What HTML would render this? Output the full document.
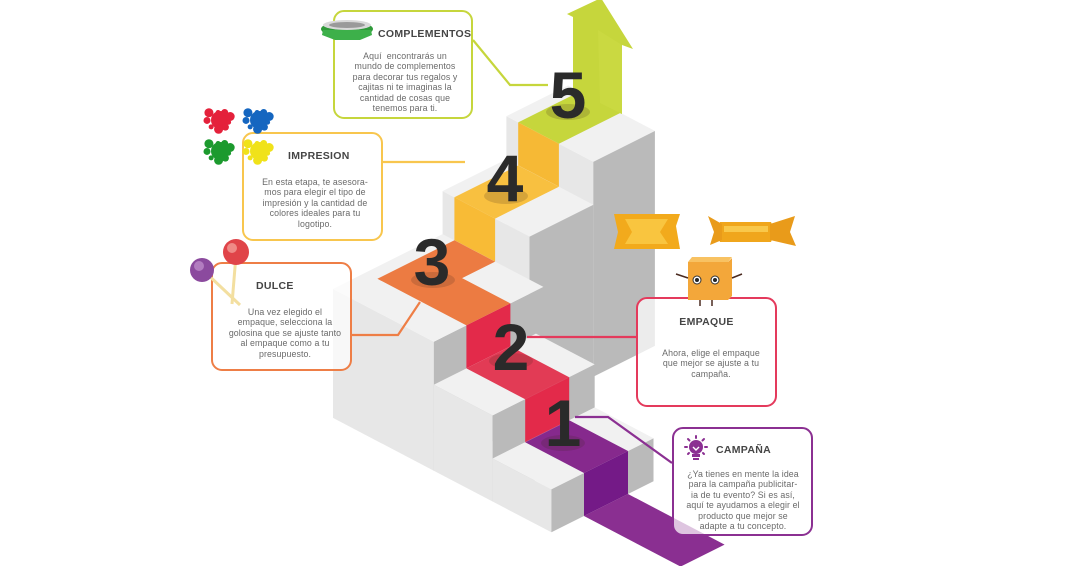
<!DOCTYPE html>
<html><head><meta charset="utf-8">
<style>
html,body{margin:0;padding:0;background:#fff;}
body{width:1080px;height:566px;overflow:hidden;position:relative;font-family:"Liberation Sans",sans-serif;}
svg{position:absolute;left:0;top:0;}
.box{position:absolute;border-radius:11px;background:rgba(255,255,255,0.72);box-sizing:border-box;}
.t{position:absolute;font-weight:bold;color:#454545;font-size:10.5px;letter-spacing:0.3px;}
.b{position:absolute;color:#6a6a6a;font-size:8.8px;line-height:10.4px;text-align:center;white-space:nowrap;letter-spacing:0.1px;}
</style></head><body>
<svg id="s" width="1080" height="566" viewBox="0 0 1080 566"></svg>

<!-- callout boxes -->
<div class="box" style="left:333px;top:10px;width:140px;height:109px;border:2.5px solid #c6d63c;"></div>
<div class="t" style="left:378px;top:28px;">COMPLEMENTOS</div>
<div class="b" style="left:333px;width:144px;top:51px;">Aquí&nbsp; encontrarás un<br>mundo de complementos<br>para decorar tus regalos y<br>cajitas ni te imaginas la<br>cantidad de cosas que<br>tenemos para ti.</div>

<div class="box" style="left:242px;top:132px;width:141px;height:109px;border:2.5px solid #f8c64e;"></div>
<div class="t" style="left:288px;top:150px;">IMPRESION</div>
<div class="b" style="left:242px;width:146px;top:177px;">En esta etapa, te asesora-<br>mos para elegir el tipo de<br>impresión y la cantidad de<br>colores ideales para tu<br>logotipo.</div>

<div class="box" style="left:211px;top:262px;width:141px;height:109px;border:2.5px solid #ee7e46;"></div>
<div class="t" style="left:256px;top:280px;">DULCE</div>
<div class="b" style="left:214px;width:142px;top:307px;">Una vez elegido el<br>empaque, selecciona la<br>golosina que se ajuste tanto<br>al empaque como a tu<br>presupuesto.</div>

<div class="box" style="left:636px;top:297px;width:141px;height:110px;border:2.5px solid #e43a5c;"></div>
<div class="t" style="left:636px;width:141px;text-align:center;top:316px;">EMPAQUE</div>
<div class="b" style="left:636px;width:150px;top:348px;">Ahora, elige el empaque<br>que mejor se ajuste a tu<br>campaña.</div>

<div class="box" style="left:672px;top:427px;width:141px;height:109px;border:2.5px solid #8b3092;"></div>
<div class="t" style="left:716px;top:444px;">CAMPAÑA</div>
<div class="b" style="left:672px;width:142px;top:469px;">¿Ya tienes en mente la idea<br>para la campaña publicitar-<br>ia de tu evento? Si es así,<br>aquí te ayudamos a elegir el<br>producto que mejor se<br>adapte a tu concepto.</div>

<svg id="d" width="1080" height="566" viewBox="0 0 1080 566">
 <g fill="#8b3092" stroke="#8b3092">
  <circle cx="696" cy="447" r="7" stroke="none"/>
  <rect x="692" y="454" width="8" height="3" stroke="none"/>
  <rect x="693" y="458" width="6" height="2" stroke="none"/>
  <g stroke-width="2" stroke-linecap="round">
   <line x1="696" y1="436" x2="696" y2="438"/><line x1="685" y1="447" x2="687" y2="447"/><line x1="705" y1="447" x2="707" y2="447"/>
   <line x1="688" y1="439" x2="689.5" y2="440.5"/><line x1="704" y1="439" x2="702.5" y2="440.5"/>
   <line x1="688" y1="454" x2="689" y2="453"/><line x1="704" y1="454" x2="703" y2="453"/>
  </g>
  <polyline points="693,447 696,450 699,447" fill="none" stroke="#fff" stroke-width="1.4"/>
 </g>
</svg>

<script>
var S=document.getElementById('s');var NS='http://www.w3.org/2000/svg';
function P(x,y,z){return [584+42*x+44*y,516+22*x-22*y-43*z];}
function poly(pts,fill){var e=document.createElementNS(NS,'polygon');e.setAttribute('points',pts.map(function(p){return p[0].toFixed(1)+','+p[1].toFixed(1)}).join(' '));e.setAttribute('fill',fill);S.appendChild(e);return e;}
function el(tag,attrs,txt){var e=document.createElementNS(NS,tag);for(var k in attrs)e.setAttribute(k,attrs[k]);if(txt)e.textContent=txt;S.appendChild(e);return e;}
var L='#e7e7e7',F='#bababa',T='#f1f1f1';
function box(x0,x1,y0,y1,z0,z1){
 poly([P(x0,y0,z0),P(x1,y0,z0),P(x1,y0,z1),P(x0,y0,z1)],L);
 poly([P(x1,y0,z0),P(x1,y1,z0),P(x1,y1,z1),P(x1,y0,z1)],F);
 poly([P(x0,y0,z1),P(x1,y0,z1),P(x1,y1,z1),P(x0,y1,z1)],T);
}
function topq(x0,x1,y0,y1,z,c){poly([P(x0,y0,z),P(x1,y0,z),P(x1,y1,z),P(x0,y1,z)],c);}
function frontq(x,y0,y1,z0,z1,c){poly([P(x,y0,z0),P(x,y1,z0),P(x,y1,z1),P(x,y0,z1)],c);}
function leftq(y,x0,x1,z0,z1,c){poly([P(x0,y,z0),P(x1,y,z0),P(x1,y,z1),P(x0,y,z1)],c);}

// step 5
box(-5.2,-3.13,3.2,4.6,0,5);
topq(-4.92,-3.95,3.2,4.6,5,'#c6d63c');
leftq(3.2,-4.92,-3.95,4,5,'#f6b935');
// arrow
poly([[573,92],[573,17],[567,14],[601,-2],[633,49],[622,45],[622,114]],'#c6d63c');
poly([[598,30],[622,45],[622,114],[600,103]],'#cad941');
// step 4
box(-5.2,-3.13,1.75,3.2,0,4);
topq(-4.92,-3.95,1.75,3.2,4,'#f8c040');
leftq(1.75,-4.92,-3.95,3,4,'#f8bb36');
// landing
box(-5.2,-2.8,-0.74,1.75,0,3);
poly([P(-2.8,0,3),P(-4.92,0,3),P(-4.92,1.75,3),P(-3.95,1.75,3),P(-3.95,1,3),P(-2.8,1,3)],'#ec7b42');
frontq(-2.8,0,1,2,3,'#e32a4a');
// step 2
box(-2.8,-1.4,-0.74,1.58,0,2);
topq(-2.8,-1.4,0,1,2,'#e23b55');
frontq(-1.4,0,1,1,2,'#e32a4a');
// step 1
box(-1.4,0,-0.74,1.58,0,1);
topq(-1.4,0,0,1,1,'#86298d');
frontq(0,0,1,0,1,'#741a87');
// floor strip
topq(0,2.3,0,1,0,'#8a2f91');

// digit shadows + digits
[[568,112],[506,196],[433,280],[511,361],[563,443]].forEach(function(p){el('ellipse',{cx:p[0],cy:p[1],rx:22,ry:8,fill:'rgba(60,40,30,0.18)'});});
var D=[['5',568,118],['4',505,201],['3',432,285],['2',511,370],['1',563,446]];
D.forEach(function(d){el('text',{x:d[1],y:d[2],'text-anchor':'middle','font-family':'Liberation Sans, sans-serif','font-weight':'bold','font-size':'66',fill:'#2a2a2a'},d[0]);});

// connectors
function line(pts,c){el('polyline',{points:pts,fill:'none',stroke:c,'stroke-width':'2.2'});}
line('473,40 510,85 548,85','#c6d63c');
line('383,162 465,162','#f8c64e');
line('352,335 398,335 420,302','#ee7e46');
line('636,337 527,337','#e43a5c');
line('575,417 608,417 672,463','#8b3092');

// decorations on top layer
S=document.getElementById('d');
// ribbon
el('ellipse',{cx:347,cy:29,rx:26,ry:8,fill:'#2f9a3a'});
el('ellipse',{cx:347,cy:25,rx:24,ry:5,fill:'#d9d9d9'});
el('ellipse',{cx:347,cy:25,rx:18,ry:3,fill:'#9a9a9a'});
poly([[323,30],[371,30],[372,35],[360,40],[335,40],[322,35]],'#3db04a');

// splats
function splat(cx,cy,c){el('circle',{cx:cx,cy:cy,r:9,fill:c});
 for(var i=0;i<9;i++){var a=i*0.7+0.3,r=9+((i*37)%6);el('circle',{cx:cx+Math.cos(a)*r,cy:cy+Math.sin(a)*r*0.85,r:2.5+(i%3),fill:c});}}
splat(220,120,'#e4213b');splat(259,120,'#1566c0');splat(220,151,'#1c9a2e');splat(259,151,'#f0e21a');

// lollipops
el('line',{x1:205,y1:272,x2:240,y2:305,stroke:'#f3dfa0','stroke-width':'3'});
el('line',{x1:236,y1:255,x2:232,y2:304,stroke:'#f3dfa0','stroke-width':'3'});
el('circle',{cx:202,cy:270,r:12,fill:'#8b4a9e'});
el('circle',{cx:199,cy:266,r:5,fill:'#b27cc0'});
el('circle',{cx:236,cy:252,r:13,fill:'#e04449'});
el('circle',{cx:232,cy:248,r:5,fill:'#ef8a86'});

// candies
poly([[614,214],[680,214],[676,226],[680,249],[614,249],[618,232]],'#f2aa1c');
poly([[625,219],[668,219],[660,232],[668,244],[625,244],[632,232]],'#f9c53f');
poly([[720,222],[771,222],[775,232],[771,242],[720,242],[716,232]],'#f0a61c');
poly([[708,216],[722,224],[722,240],[710,245],[714,232]],'#e99b1a');
poly([[770,224],[795,216],[790,232],[796,246],[770,240]],'#e99b1a');
poly([[724,226],[768,226],[768,232],[724,232]],'#f9c84a');

// cube character
poly([[688,262],[728,262],[732,258],[732,296],[728,300],[688,300]],'#f3a73a');
poly([[688,262],[692,257],[732,257],[728,262]],'#f8c262');
el('circle',{cx:697,cy:280,r:4,fill:'#fff',stroke:'#333','stroke-width':'1'});
el('circle',{cx:715,cy:280,r:4,fill:'#fff',stroke:'#333','stroke-width':'1'});
el('circle',{cx:697,cy:280,r:2,fill:'#222'});el('circle',{cx:715,cy:280,r:2,fill:'#222'});
el('line',{x1:688,y1:278,x2:676,y2:274,stroke:'#4a2a20','stroke-width':'1.5'});
el('line',{x1:732,y1:278,x2:742,y2:274,stroke:'#4a2a20','stroke-width':'1.5'});
el('line',{x1:700,y1:300,x2:700,y2:306,stroke:'#4a2a20','stroke-width':'1.5'});
el('line',{x1:712,y1:300,x2:712,y2:306,stroke:'#4a2a20','stroke-width':'1.5'});
</script>
</body></html>
